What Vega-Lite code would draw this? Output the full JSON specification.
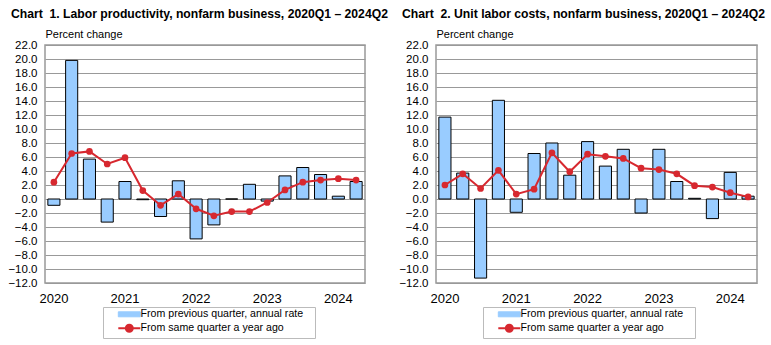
{
  "$schema": "https://vega.github.io/schema/vega-lite/v6.json",
  "background": "white",
  "padding": {"left": 7, "top": 7, "right": 5, "bottom": 5},
  "spacing": 9,
  "datasets": {
    "prod": [
      {"q": "2020Q1", "prev": -0.9, "yoy": 2.4},
      {"q": "2020Q2", "prev": 19.8, "yoy": 6.5},
      {"q": "2020Q3", "prev": 5.7, "yoy": 6.8},
      {"q": "2020Q4", "prev": -3.3, "yoy": 5.0},
      {"q": "2021Q1", "prev": 2.5, "yoy": 5.9},
      {"q": "2021Q2", "prev": -0.1, "yoy": 1.2},
      {"q": "2021Q3", "prev": -2.5, "yoy": -0.9},
      {"q": "2021Q4", "prev": 2.6, "yoy": 0.7},
      {"q": "2022Q1", "prev": -5.7, "yoy": -1.4},
      {"q": "2022Q2", "prev": -3.7, "yoy": -2.4},
      {"q": "2022Q3", "prev": 0.0, "yoy": -1.8},
      {"q": "2022Q4", "prev": 2.1, "yoy": -1.8},
      {"q": "2023Q1", "prev": -0.3, "yoy": -0.5},
      {"q": "2023Q2", "prev": 3.3, "yoy": 1.3},
      {"q": "2023Q3", "prev": 4.5, "yoy": 2.4},
      {"q": "2023Q4", "prev": 3.5, "yoy": 2.7},
      {"q": "2024Q1", "prev": 0.4, "yoy": 2.9},
      {"q": "2024Q2", "prev": 2.5, "yoy": 2.7}
    ],
    "ulc": [
      {"q": "2020Q1", "prev": 11.7, "yoy": 2.0},
      {"q": "2020Q2", "prev": 3.7, "yoy": 3.6},
      {"q": "2020Q3", "prev": -11.3, "yoy": 1.5},
      {"q": "2020Q4", "prev": 14.1, "yoy": 4.1},
      {"q": "2021Q1", "prev": -1.9, "yoy": 0.7},
      {"q": "2021Q2", "prev": 6.5, "yoy": 1.4},
      {"q": "2021Q3", "prev": 8.0, "yoy": 6.6},
      {"q": "2021Q4", "prev": 3.4, "yoy": 3.9},
      {"q": "2022Q1", "prev": 8.2, "yoy": 6.4},
      {"q": "2022Q2", "prev": 4.7, "yoy": 6.1},
      {"q": "2022Q3", "prev": 7.1, "yoy": 5.8},
      {"q": "2022Q4", "prev": -2.0, "yoy": 4.4},
      {"q": "2023Q1", "prev": 7.1, "yoy": 4.2},
      {"q": "2023Q2", "prev": 2.5, "yoy": 3.6},
      {"q": "2023Q3", "prev": 0.1, "yoy": 1.9},
      {"q": "2023Q4", "prev": -2.8, "yoy": 1.7},
      {"q": "2024Q1", "prev": 3.8, "yoy": 0.9},
      {"q": "2024Q2", "prev": 0.4, "yoy": 0.3}
    ]
  },
  "resolve": {"legend": {"color": "independent"}},
  "hconcat": [
    {
      "title": {"text": "Chart\u00a0 1. Labor productivity, nonfarm business, 2020Q1 – 2024Q2"},
      "width": 320,
      "height": 238,
      "data": {"name": "prod"},
      "encoding": {
        "x": {"field": "q", "type": "ordinal", "scale": {"paddingInner": 0.32, "paddingOuter": 0.16}}
      },
      "layer": [
        {
          "mark": {"type": "bar", "stroke": "#000", "strokeWidth": 1},
          "encoding": {
            "y": {"field": "prev", "type": "quantitative", "scale": {"domain": [-12, 22], "nice": false, "zero": false},
                  "axis": {"title": "Percent change", "values": [-12,-10,-8,-6,-4,-2,0,2,4,6,8,10,12,14,16,18,20,22], "format": ".1f"}},
            "color": {"datum": "From previous quarter, annual rate", "type": "nominal"}
          }
        },
        {
          "mark": {"type": "line", "strokeWidth": 2, "point": {"filled": true, "size": 45}},
          "encoding": {
            "y": {"field": "yoy", "type": "quantitative",
                  "axis": {"title": "Percent change", "values": [-12,-10,-8,-6,-4,-2,0,2,4,6,8,10,12,14,16,18,20,22], "format": ".1f"}},
            "color": {"datum": "From same quarter a year ago", "type": "nominal",
                      "legend": {"orient": "none", "legendX": 58, "legendY": 262,
                        "title": "ii", "titleOrient": "right", "titlePadding": 4, "titleFontSize": 10, "titleColor": "#ffffff",
                        "encode": {"symbols": {"update": {
                          "shape": {"signal": "datum.value === 'From previous quarter, annual rate' ? 'M1.6,-0.5H6.0V0.5H1.6Z' : 'M1.6,0H6.0M3.1,0A0.7,0.7 0 1,0 4.5,0A0.7,0.7 0 1,0 3.1,0Z'"},
                          "size": {"value": 100},
                          "fill": {"signal": "datum.value === 'From previous quarter, annual rate' ? '#99CCFF' : '#D7282F'"},
                          "stroke": {"signal": "datum.value === 'From previous quarter, annual rate' ? '#000000' : '#D7282F'"},
                          "strokeWidth": {"signal": "datum.value === 'From previous quarter, annual rate' ? 1 : 2"},
                          "opacity": {"value": 1},
                          "fillOpacity": {"value": 1},
                          "strokeOpacity": {"value": 1}
                        }}}}}
          }
        }
      ]
    },
    {
      "title": {"text": "Chart\u00a0 2. Unit labor costs, nonfarm business, 2020Q1 – 2024Q2"},
      "width": 321,
      "height": 238,
      "data": {"name": "ulc"},
      "encoding": {
        "x": {"field": "q", "type": "ordinal", "scale": {"paddingInner": 0.32, "paddingOuter": 0.16}}
      },
      "layer": [
        {
          "mark": {"type": "bar", "stroke": "#000", "strokeWidth": 1},
          "encoding": {
            "y": {"field": "prev", "type": "quantitative", "scale": {"domain": [-12, 22], "nice": false, "zero": false},
                  "axis": {"title": "Percent change", "values": [-12,-10,-8,-6,-4,-2,0,2,4,6,8,10,12,14,16,18,20,22], "format": ".1f"}},
            "color": {"datum": "From previous quarter, annual rate", "type": "nominal"}
          }
        },
        {
          "mark": {"type": "line", "strokeWidth": 2, "point": {"filled": true, "size": 45}},
          "encoding": {
            "y": {"field": "yoy", "type": "quantitative",
                  "axis": {"title": "Percent change", "values": [-12,-10,-8,-6,-4,-2,0,2,4,6,8,10,12,14,16,18,20,22], "format": ".1f"}},
            "color": {"datum": "From same quarter a year ago", "type": "nominal",
                      "legend": {"orient": "none", "legendX": 47, "legendY": 262,
                        "title": "ii", "titleOrient": "right", "titlePadding": 4, "titleFontSize": 10, "titleColor": "#ffffff",
                        "encode": {"symbols": {"update": {
                          "shape": {"signal": "datum.value === 'From previous quarter, annual rate' ? 'M1.6,-0.5H6.0V0.5H1.6Z' : 'M1.6,0H6.0M3.1,0A0.7,0.7 0 1,0 4.5,0A0.7,0.7 0 1,0 3.1,0Z'"},
                          "size": {"value": 100},
                          "fill": {"signal": "datum.value === 'From previous quarter, annual rate' ? '#99CCFF' : '#D7282F'"},
                          "stroke": {"signal": "datum.value === 'From previous quarter, annual rate' ? '#000000' : '#D7282F'"},
                          "strokeWidth": {"signal": "datum.value === 'From previous quarter, annual rate' ? 1 : 2"},
                          "opacity": {"value": 1},
                          "fillOpacity": {"value": 1},
                          "strokeOpacity": {"value": 1}
                        }}}}}
          }
        }
      ]
    }
  ],
  "config": {
    "font": "Liberation Sans",
    "view": {"stroke": "#999", "strokeWidth": 1.5},
    "range": {"category": ["#99CCFF", "#D7282F"]},
    "title": {"anchor": "start", "frame": "bounds", "fontSize": 12.2, "fontWeight": "bold", "color": "#000", "offset": 8, "dx": 3, "font": "Liberation Sans"},
    "axisX": {"title": null, "labelAngle": 0, "ticks": false, "tickSize": 0, "domain": false, "grid": false,
              "labelFontSize": 13, "labelColor": "#000", "labelPadding": 9,
              "labelExpr": "indexof(datum.value, 'Q1') > 0 ? slice(datum.value, 0, 4) : ''"},
    "axisY": {"ticks": false, "tickSize": 0, "domain": false, "grid": true, "gridColor": "#999", "gridWidth": 1,
              "labelFontSize": 11.5, "labelColor": "#000", "labelPadding": 8,
              "titleAngle": 0, "titleAlign": "left", "titleBaseline": "alphabetic", "titleX": 0, "titleY": -8,
              "titleFontSize": 11, "titleFontWeight": "normal", "titleColor": "#000"},
    "legend": {
      "direction": "vertical",
      "strokeColor": "#bbb",
      "padding": 2,
      "rowPadding": 0,
      "symbolSize": 100,
      "labelFontSize": 10.6,
      "labelColor": "#000",
      "labelOffset": 25,
      "labelLimit": 400
    }
  }
}
